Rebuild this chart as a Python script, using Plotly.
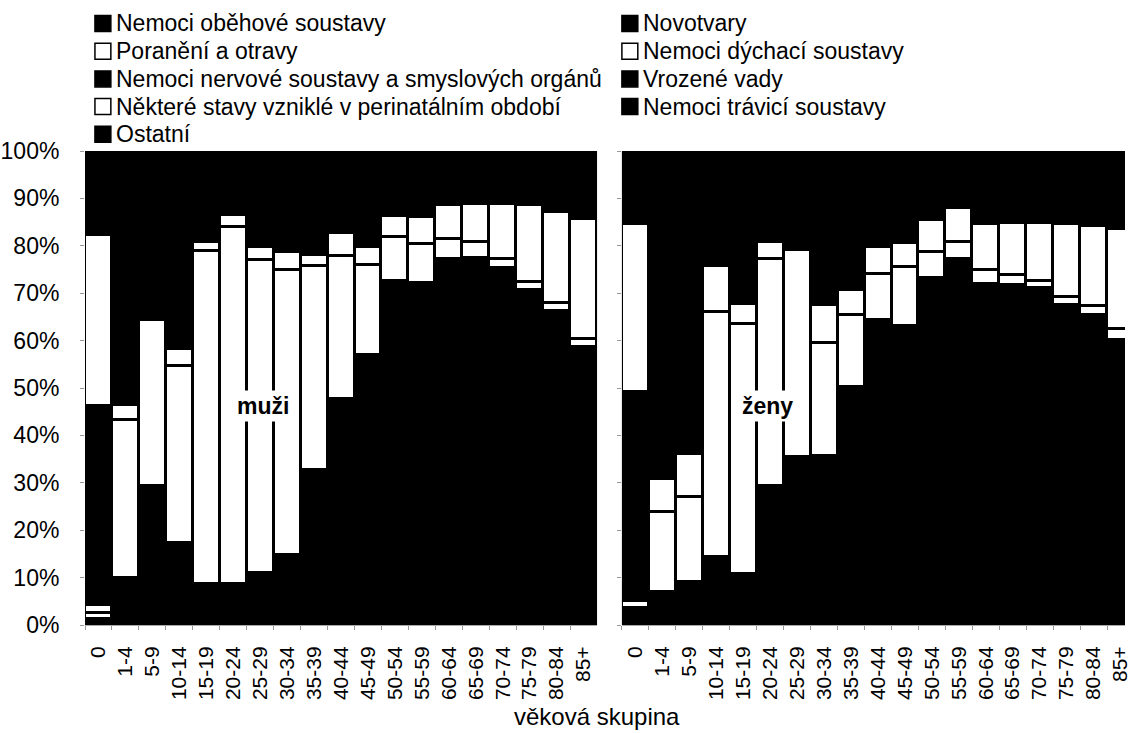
import plotly.graph_objects as go

age_groups = ["0", "1-4", "5-9", "10-14", "15-19", "20-24", "25-29", "30-34", "35-39",
              "40-44", "45-49", "50-54", "55-59", "60-64", "65-69", "70-74", "75-79",
              "80-84", "85+"]

series_names = [
    "Nemoci oběhové soustavy",
    "Novotvary",
    "Poranění a otravy",
    "Nemoci dýchací soustavy",
    "Nemoci nervové soustavy a smyslových orgánů",
    "Vrozené vady",
    "Některé stavy vzniklé v perinatálním období",
    "Nemoci trávicí soustavy",
    "Ostatní",
]
series_colors = ["#000000", "#000000", "#ffffff", "#ffffff", "#000000",
                 "#000000", "#ffffff", "#000000", "#000000"]

# muži – podíl příčin úmrtí (%)
muzi_obehova = [0.6, 2.5, 2.0, 3.4, 3.2, 3.5, 4.4, 6.7, 18.8, 25.0, 28.0, 36.0, 36.5, 40.5, 44.0, 48.0, 50.5, 52.0, 50.0]
muzi_novotvary = [0.7, 7.5, 27.4, 14.0, 5.5, 5.2, 6.5, 8.0, 14.0, 22.7, 29.0, 36.6, 35.6, 36.8, 33.4, 27.4, 20.1, 14.3, 8.6]
muzi_poraneni = [1.3, 33.2, 34.9, 37.3, 70.3, 75.3, 66.1, 60.3, 43.0, 30.1, 19.0, 9.3, 8.3, 4.1, 3.3, 1.8, 1.7, 1.7, 1.7]
muzi_dychaci = [1.6, 3.3, 0.0, 3.6, 1.7, 2.6, 2.8, 3.7, 2.3, 5.0, 3.8, 4.3, 5.6, 7.3, 8.1, 11.7, 16.3, 19.2, 25.3]
muzi_nervova = [2.5, 10.0, 12.0, 14.0, 5.0, 3.5, 3.5, 3.0, 2.5, 2.0, 1.8, 1.5, 1.5, 1.5, 1.6, 1.8, 2.0, 2.2, 2.4]
muzi_vrozene = [39.4, 15.0, 8.0, 6.0, 2.0, 1.2, 1.0, 0.8, 0.6, 0.4, 0.3, 0.2, 0.2, 0.1, 0.1, 0.1, 0.0, 0.0, 0.0]
muzi_perinatalni = [36.1, 0.0, 0.0, 0.0, 0.0, 0.0, 0.0, 0.0, 0.0, 0.0, 0.0, 0.0, 0.0, 0.0, 0.0, 0.0, 0.0, 0.0, 0.0]
muzi_travici = [0.8, 2.0, 1.5, 1.7, 1.3, 1.2, 2.7, 4.5, 7.3, 8.8, 10.5, 7.6, 7.8, 5.9, 5.5, 4.7, 4.2, 3.8, 3.5]
muzi_ostatni = [17.0, 26.5, 14.2, 20.0, 11.0, 7.5, 13.0, 13.0, 11.5, 6.0, 7.6, 4.5, 4.5, 3.8, 4.0, 4.5, 5.2, 6.8, 8.5]

# ženy – podíl příčin úmrtí (%)
zeny_obehova = [2.0, 2.4, 2.0, 3.3, 3.7, 9.4, 11.0, 10.6, 12.0, 18.0, 18.0, 25.0, 31.0, 37.0, 44.0, 52.0, 54.0, 56.0, 55.5]
zeny_novotvary = [1.6, 4.5, 7.0, 11.0, 7.0, 20.0, 24.4, 25.0, 38.2, 46.3, 45.0, 48.3, 46.3, 35.0, 27.7, 19.0, 13.5, 9.3, 4.7]
zeny_poraneni = [1.5, 16.9, 17.9, 51.8, 52.7, 47.8, 43.7, 24.0, 15.1, 9.8, 12.5, 5.4, 3.6, 2.8, 2.2, 1.6, 1.6, 2.0, 2.3]
zeny_dychaci = [0.0, 7.1, 9.2, 9.7, 4.3, 3.6, 0.0, 7.9, 5.3, 5.7, 5.1, 6.8, 7.0, 9.9, 10.9, 12.2, 15.4, 16.8, 21.1]
zeny_nervova = [3.0, 14.0, 15.0, 8.0, 9.0, 5.0, 4.5, 5.0, 4.0, 3.0, 2.5, 2.0, 1.8, 2.3, 2.5, 2.7, 3.0, 3.0, 2.9]
zeny_vrozene = [41.0, 25.0, 12.0, 4.0, 3.5, 1.5, 1.0, 1.0, 0.8, 0.5, 0.4, 0.3, 0.2, 0.1, 0.1, 0.0, 0.0, 0.0, 0.0]
zeny_perinatalni = [35.6, 0.0, 0.0, 0.0, 0.0, 0.0, 0.0, 0.0, 0.0, 0.0, 0.0, 0.0, 0.0, 0.0, 0.0, 0.0, 0.0, 0.0, 0.0]
zeny_travici = [0.8, 3.1, 1.9, 1.2, 2.8, 2.7, 4.4, 9.5, 10.6, 9.7, 9.5, 7.2, 5.6, 6.4, 5.6, 4.5, 4.0, 3.4, 2.5]
zeny_ostatni = [14.5, 27.0, 35.0, 11.0, 17.0, 10.0, 11.0, 17.0, 14.0, 7.0, 7.0, 5.0, 4.5, 6.5, 7.0, 8.0, 8.5, 9.5, 11.0]

y_tick_values = [0, 10, 20, 30, 40, 50, 60, 70, 80, 90, 100]
y_tick_labels = ["0%", "10%", "20%", "30%", "40%", "50%", "60%", "70%", "80%", "90%", "100%"]

muzi = [muzi_obehova, muzi_novotvary, muzi_poraneni, muzi_dychaci, muzi_nervova,
        muzi_vrozene, muzi_perinatalni, muzi_travici, muzi_ostatni]
zeny = [zeny_obehova, zeny_novotvary, zeny_poraneni, zeny_dychaci, zeny_nervova,
        zeny_vrozene, zeny_perinatalni, zeny_travici, zeny_ostatni]

FONT = "Liberation Sans, Arial, sans-serif"
W, H = 1131, 733
L, R, T, B = 85, 0, 151, 108
PW, PH = W - L - R, H - T - B


def px_x(px):
    return (px - L) / PW


def px_y(py):
    return (H - B - py) / PH


fig = go.Figure()
for vals, name, color in zip(muzi, series_names, series_colors):
    fig.add_trace(go.Bar(x=age_groups, y=vals, name=name, xaxis="x", yaxis="y",
                         marker=dict(color=color, line=dict(color="#000000", width=3)),
                         showlegend=False))
for vals, name, color in zip(zeny, series_names, series_colors):
    fig.add_trace(go.Bar(x=age_groups, y=vals, name=name, xaxis="x2", yaxis="y2",
                         marker=dict(color=color, line=dict(color="#000000", width=3)),
                         showlegend=False))

split_left = px_x(600)
split_right = px_x(625)
cat_px = 515 / 19.0
x2_end = -0.5 + (W - 625) / cat_px

common_x = dict(type="category", categoryorder="array", categoryarray=age_groups,
                tickmode="array", tickvals=age_groups, ticktext=age_groups,
                tickangle=-90, ticks="outside", tickson="boundaries", ticklen=4,
                tickcolor="#999999", showline=True, linecolor="#aaaaaa", linewidth=1,
                showgrid=False, zeroline=False,
                tickfont=dict(family=FONT, size=21, color="#000000"),
                ticklabelstandoff=12)
common_y = dict(range=[0, 100], tickmode="array", tickvals=y_tick_values, ticktext=y_tick_labels,
                showgrid=False, zeroline=False, ticks="outside", ticklen=4, tickcolor="#999999",
                tickfont=dict(family=FONT, size=23, color="#000000"))

fig.update_layout(
    width=W, height=H,
    margin=dict(l=L, r=R, t=T, b=B),
    paper_bgcolor="#ffffff",
    plot_bgcolor="#000000",
    barmode="stack",
    bargap=0,
    showlegend=False,
    xaxis=dict(domain=[0, split_left], range=[-0.5, 18.5], anchor="y", **common_x),
    xaxis2=dict(domain=[split_right, 1], range=[-0.5, x2_end], anchor="y2", **common_x),
    yaxis=dict(domain=[0, 1], anchor="x", showticklabels=True, ticklabelstandoff=16, **common_y),
    yaxis2=dict(domain=[0, 1], anchor="x2", showticklabels=False, **common_y),
)

annotations = []
shapes = []

# legend drawn as two columns of swatches and labels
col_x = [95, 625]
row_y0, row_dy = 23.5, 27.7
sw = 16
for i, (name, color) in enumerate(zip(series_names, series_colors)):
    col, row = i % 2, i // 2
    cx = col_x[col]
    cy = row_y0 + row * row_dy
    shapes.append(dict(type="rect", xref="paper", yref="paper",
                       x0=px_x(cx), x1=px_x(cx + sw), y0=px_y(cy + sw / 2), y1=px_y(cy - sw / 2),
                       fillcolor=color, line=dict(color="#000000", width=1.5)))
    annotations.append(dict(xref="paper", yref="paper", x=px_x(cx + sw + 3), y=px_y(cy),
                            xanchor="left", yanchor="middle", showarrow=False, text=name,
                            font=dict(family=FONT, size=23, color="#000000")))

# panel labels
annotations.append(dict(xref="x", yref="y", x=6.1, y=46.2, text="<b>muži</b>", showarrow=False,
                        bgcolor="#ffffff", borderpad=2,
                        font=dict(family=FONT, size=23, color="#000000")))
annotations.append(dict(xref="x2", yref="y2", x=4.9, y=46.2, text="<b>ženy</b>", showarrow=False,
                        bgcolor="#ffffff", borderpad=2,
                        font=dict(family=FONT, size=23, color="#000000")))

# common x-axis title
annotations.append(dict(xref="paper", yref="paper", x=px_x(600), y=px_y(716), xanchor="center",
                        yanchor="middle", showarrow=False, text="věková skupina",
                        font=dict(family=FONT, size=24, color="#000000")))

fig.update_layout(annotations=annotations, shapes=shapes)

fig.write_html("out.html")
